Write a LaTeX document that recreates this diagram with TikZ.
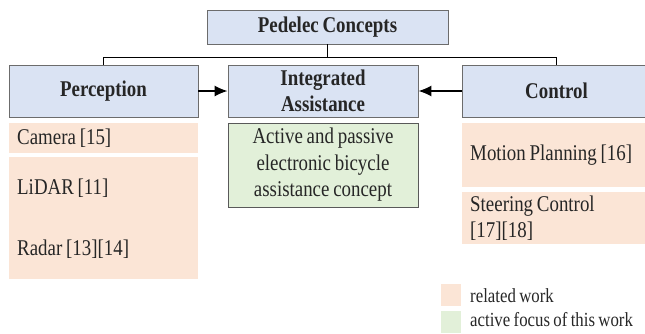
\documentclass[tikz,border=0pt]{standalone}
\usepackage{fontspec}
\setmainfont{Liberation Serif}[FakeStretch=0.84,WordSpace=0.8]
\usepackage{tikz}
\usetikzlibrary{arrows.meta}

\definecolor{headblue}{HTML}{DAE3F3}
\definecolor{workorange}{HTML}{FBE5D6}
\definecolor{focusgreen}{HTML}{E2F0D9}
\definecolor{textgray}{HTML}{262626}

\begin{document}
\begin{tikzpicture}[x=1pt,y=-1pt,
  every node/.style={text=textgray, font=\fontsize{22.5}{26.5}\selectfont},
  headbox/.style={draw=gray!85!black, fill=headblue, line width=0.8pt,
    font=\fontsize{22.5}{26.5}\selectfont\bfseries, align=center,
    minimum width=189pt, minimum height=52pt, inner sep=0pt},
  workbox/.style={fill=workorange, anchor=north west, align=flush left,
    text width=173pt, inner xsep=8pt, inner ysep=0pt, minimum width=189pt},
  keybox/.style={minimum width=20pt, minimum height=22pt, inner sep=0pt},
  keytext/.style={anchor=west, inner sep=0pt, font=\fontsize{20}{24}\selectfont},
  link/.style={line width=1.3pt, black},
  feed/.style={line width=1.5pt, black, -{Latex[length=13pt,width=11pt]}}]
\useasboundingbox (0,0) rectangle (645,333);

% headings
\node[headbox, minimum width=241pt, minimum height=34pt] (pedelec) at (327.5,27) {Pedelec Concepts};
\node[headbox] (perception) at (103.5,91) {Perception};
\node[headbox, minimum width=190pt] (integrated) at (323,91) {Integrated\\Assistance};
\node[headbox] (control) at (556.5,91) {Control};

% tree
\draw[link] (pedelec.south) -- ++(0,13) coordinate (junction);
\draw[link] (junction) -| (perception.north);
\draw[link] (junction) -| (control.north);

\draw[feed] (perception.east) -- (integrated.west);
\draw[feed] (control.west) -- (integrated.east);

% related work
\node[workbox, minimum height=30pt] (camera) at (9,123) {Camera [15]};
\node[workbox, minimum height=122pt] (sensors) at (9,157) {LiDAR [11]\\[34.5pt]Radar [13][14]};
\node[workbox, minimum height=64pt] (motion) at (462,123) {Motion Planning [16]};
\node[workbox, minimum height=52pt] (steering) at (462,192) {Steering Control\\{[17][18]}};

% this work
\node[draw=gray!70!black, fill=focusgreen, line width=0.8pt, align=center,
  minimum width=190pt, minimum height=84pt, inner sep=0pt] (concept) at (323,165)
  {Active and passive\\electronic bicycle\\assistance concept};

% legend
\node[keybox, fill=workorange] (relkey) at (451,295) {};
\node[keytext] (rellabel) at (470,296) {related work};
\node[keybox, fill=focusgreen] (focuskey) at (451,322) {};
\node[keytext] (focuslabel) at (470,320) {active focus of this work};
\end{tikzpicture}
\end{document}
